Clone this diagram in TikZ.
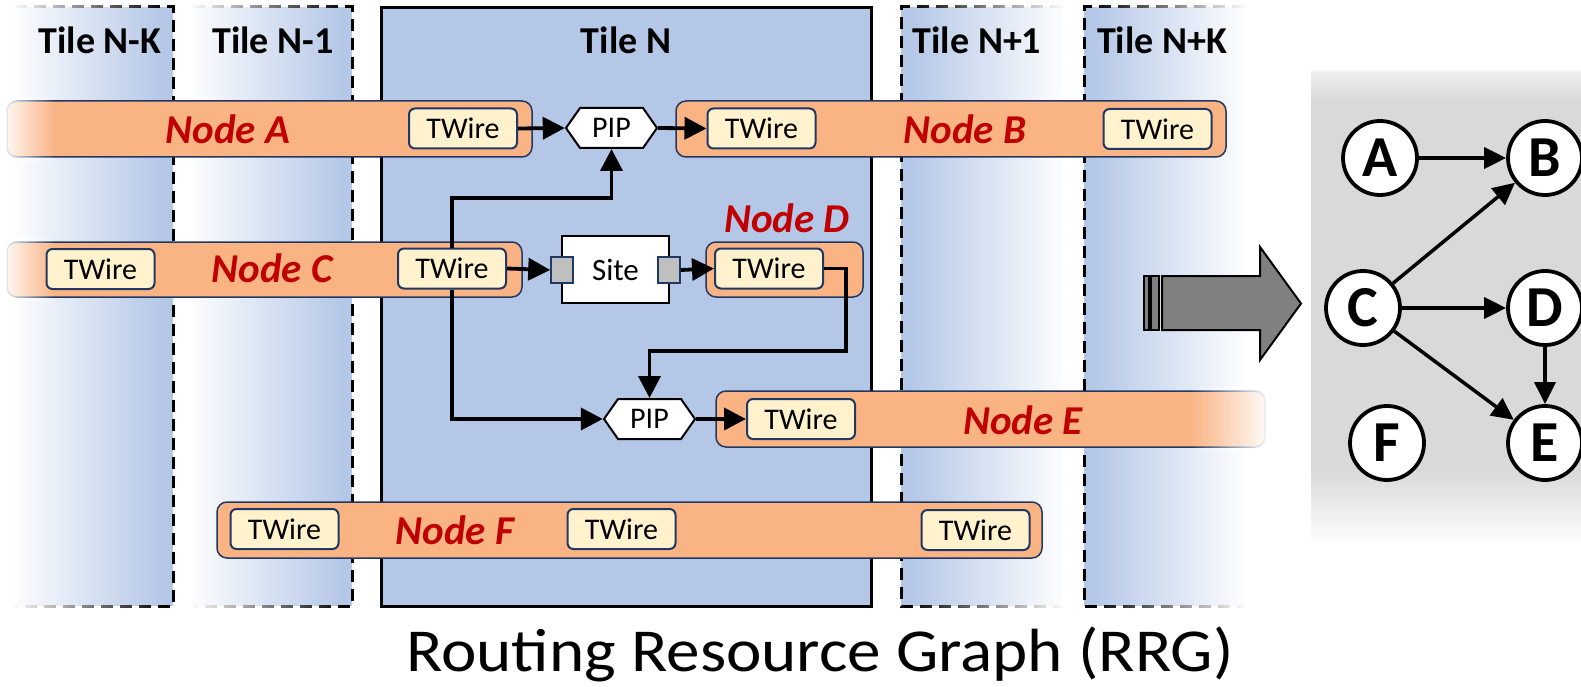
\documentclass[tikz,border=0pt]{standalone}
\usepackage{fontspec}
\setmainfont{Carlito}
\usetikzlibrary{arrows.meta,fadings,shapes.symbols,calc}

\definecolor{tileblue}{RGB}{180,199,231}
\definecolor{nodeor}{RGB}{250,180,132}
\definecolor{twfill}{RGB}{255,242,204}
\definecolor{navy}{RGB}{32,56,100}
\definecolor{nred}{RGB}{192,0,0}
\definecolor{panelgray}{RGB}{217,217,217}
\definecolor{arrgray}{RGB}{128,128,128}
\definecolor{portgray}{RGB}{191,191,191}

\tikzfading[name=fadeLR, left color=transparent!0, right color=transparent!100]
\tikzfading[name=fadeRL, left color=transparent!100, right color=transparent!0]

\tikzset{
  tiledash/.style={draw=black, line width=3pt, dash pattern=on 12pt off 7pt},
  bar/.style={draw=navy, line width=1.5pt, fill=nodeor, rounded corners=10pt},
  twire/.style={draw=navy, line width=2pt, fill=twfill, rounded corners=6pt,
    minimum width=108pt, minimum height=40pt, inner sep=0pt,
    font=\fontsize{30}{36}\selectfont},
  nodelbl/.style={font=\fontsize{41}{48}\selectfont\bfseries\itshape, text=nred},
  tilelbl/.style={font=\fontsize{38}{44}\selectfont\bfseries, anchor=base},
  pip/.style={signal, signal to=east and west, signal pointer angle=110,
    draw=black, line width=2pt, fill=white, minimum width=91pt, minimum height=40pt,
    inner sep=0pt, font=\fontsize{30}{36}\selectfont},
  port/.style={draw=navy, line width=1.5pt, fill=portgray, minimum width=22pt,
    minimum height=26pt, inner sep=0pt},
  arr/.style={line width=3.8pt, -{Triangle[length=22pt,width=22pt]}},
  gnode/.style={circle, draw=black, line width=3.8pt, fill=white, minimum size=74pt,
    inner sep=0pt, font=\fontsize{58}{64}\selectfont\bfseries},
  garr/.style={line width=3.5pt, -{Triangle[length=22pt,width=21pt]}},
  bigarrow/.style={draw=black, line width=2pt, fill=arrgray},
}

\begin{document}
\begin{tikzpicture}[x=1pt,y=-1pt]
\useasboundingbox (0,0) rectangle (1581,687);

% ---- tiles ----
% Tile N-K
\fill[tileblue] (15,7) rectangle (173,606);
\draw[tiledash] (15,7) -- (173,7) -- (173,606) -- (15,606);
\fill[white, path fading=fadeLR, fit fading=true] (10,0) rectangle (165,613);
% Tile N-1
\fill[tileblue] (193,7) rectangle (352,606);
\draw[tiledash] (193,7) -- (352,7) -- (352,606) -- (193,606);
\fill[white, path fading=fadeLR, fit fading=true] (188,0) rectangle (345,613);
% Tile N
\draw[fill=tileblue, line width=3pt] (381,8) rectangle (871,606);
% Tile N+1
\fill[tileblue] (901,7) rectangle (1062,606);
\draw[tiledash] (1062,7) -- (901,7) -- (901,606) -- (1062,606);
\fill[white, path fading=fadeRL, fit fading=true] (908,0) rectangle (1066,613);
% Tile N+K
\fill[tileblue] (1084,7) rectangle (1244,606);
\draw[tiledash] (1244,7) -- (1084,7) -- (1084,606) -- (1244,606);
\fill[white, path fading=fadeRL, fit fading=true] (1091,0) rectangle (1248,613);

\node[tilelbl] (tNK) at (100,54) {Tile N-K};
\node[tilelbl] (tN1) at (273,54) {Tile N-1};
\node[tilelbl] (tN) at (626,54) {Tile N};
\node[tilelbl] (tNp1) at (977,54) {Tile N+1};
\node[tilelbl] (tNpK) at (1162,54) {Tile N+K};

% ---- node bars ----
\draw[bar] (7,101) rectangle (532,157);
\fill[white, path fading=fadeLR, fit fading=true] (0,96) rectangle (55,162);
\draw[bar] (676,101) rectangle (1226,157);
\draw[bar] (7,242) rectangle (522,297);
\fill[white, path fading=fadeLR, fit fading=true] (0,237) rectangle (55,302);
\draw[bar] (706,242) rectangle (863,297);
\draw[bar] (716,391) rectangle (1265,447);
\fill[white, path fading=fadeRL, fit fading=true] (1190,386) rectangle (1272,452);
\draw[bar] (217,502) rectangle (1042,558);

\node[nodelbl] (lA) at (228,129) {Node A};
\node[nodelbl] (lB) at (965,129) {Node B};
\node[nodelbl] (lC) at (272,268) {Node C};
\node[nodelbl] (lD) at (787,218) {Node D};
\node[nodelbl] (lE) at (1023,420) {Node E};
\node[nodelbl] (lF) at (455,530) {Node F};

% ---- TWires ----
\node[twire] (twA) at (463,128.5) {TWire};
\node[twire] (twB1) at (761.5,128.5) {TWire};
\node[twire] (twB2) at (1157.5,129) {TWire};
\node[twire] (twC1) at (100.5,269) {TWire};
\node[twire] (twC2) at (452,268.5) {TWire};
\node[twire] (twD) at (769,268.5) {TWire};
\node[twire] (twE) at (801,419) {TWire};
\node[twire] (twF1) at (284.5,529) {TWire};
\node[twire] (twF2) at (621.5,529) {TWire};
\node[twire] (twF3) at (975.5,530) {TWire};

% ---- PIPs and site ----
\node[pip] (pip1) at (611.5,128) {PIP};
\node[pip] (pip2) at (649.5,419) {PIP};
\node[draw=black, line width=2pt, fill=white, minimum width=107pt, minimum height=67pt,
  inner sep=0pt, font=\fontsize{31}{36}\selectfont] (site) at (615.5,269.5) {Site};
\node[port] (pin) at (562,270) {};
\node[port] (pout) at (669,270) {};

% ---- connectors ----
\draw[arr] (twA.east) -- (pip1.west);
\draw[arr] (pip1.east) -- (twB1.west);
\draw[arr] (twC2.east) -- (pin.west);
\draw[arr] (pout.east) -- (twD.west);
\draw[arr] (twC2.north) -- (twC2.north |- 0,198) -| (pip1.south);
\draw[arr] (twC2.south) |- (pip2.west);
\coordinate (dturn) at (846,351);
\draw[arr] (twD.east) -| (dturn) -| (pip2.north);
\draw[arr] (pip2.east) -- (twE.west);

% ---- big arrow ----
\draw[bigarrow] (1144,276) rectangle (1149,330);
\draw[bigarrow] (1151,276) rectangle (1159,330);
\draw[bigarrow] (1162,276) -- (1260,276) -- (1260,247) -- (1301,303.5) -- (1260,360) -- (1260,330) -- (1162,330) -- cycle;

% ---- graph panel ----
\fill[panelgray] (1311,100) rectangle (1581,470);
\shade[top color=panelgray!40, bottom color=panelgray] (1311,72) rectangle (1581,100.5);
\shade[top color=panelgray, bottom color=white] (1311,469.5) rectangle (1581,545);

\node[gnode] (gA) at (1380,158) {A};
\node[gnode] (gB) at (1545,158) {B};
\node[gnode] (gC) at (1363,308) {C};
\node[gnode] (gD) at (1545,308) {D};
\node[gnode] (gF) at (1387,443) {F};
\node[gnode] (gE) at (1545,443) {E};
\draw[garr] (gA) -- (gB);
\draw[garr] (gC) -- (gB);
\draw[garr] (gC) -- (gD);
\draw[garr] (gC) -- (gE);
\draw[garr] (gD) -- (gE);

% ---- title ----
\node[font=\fontsize{61}{70}\selectfont, anchor=base, xscale=1.1] (title) at (820,671) {Routing Resource Graph (RRG)};
\end{tikzpicture}
\end{document}
